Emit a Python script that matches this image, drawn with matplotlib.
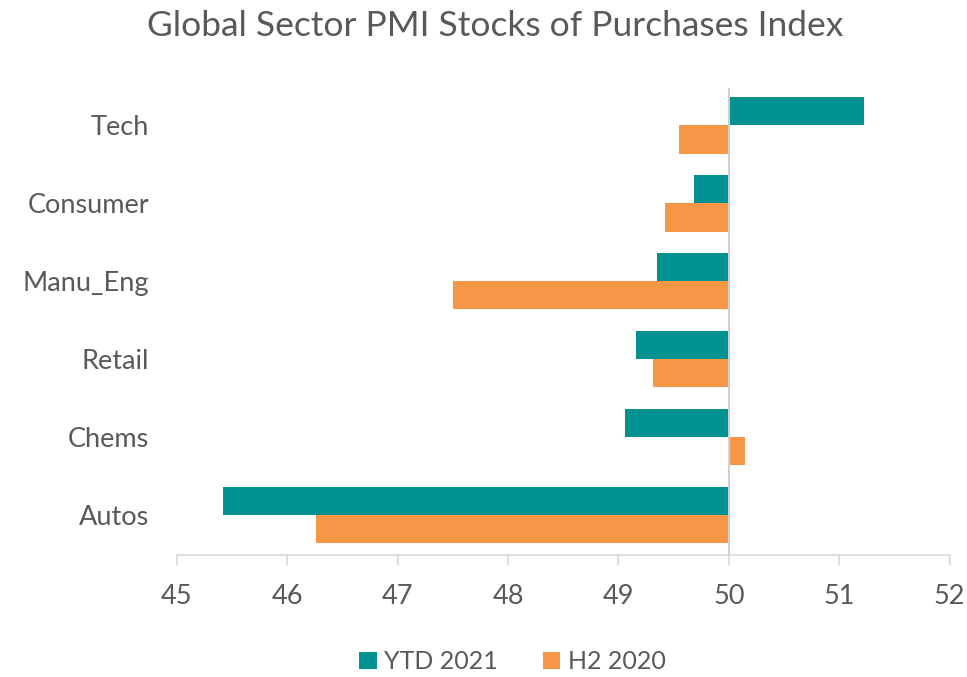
import matplotlib
matplotlib.use("Agg")
import matplotlib.pyplot as plt
import numpy as np

categories = ["Autos", "Chems", "Retail", "Manu_Eng", "Consumer", "Tech"]
ytd_2021 = [45.42, 49.06, 49.16, 49.35, 49.68, 51.22]
h2_2020 = [46.26, 50.15, 49.31, 47.50, 49.42, 49.55]
xticks = [45, 46, 47, 48, 49, 50, 51, 52]
series_names = ["YTD 2021", "H2 2020"]

plt.rcParams['font.family'] = ['Lato', 'DejaVu Sans']
TXT = '#595959'
TEAL = '#009191'
ORANGE = '#F79646'
BASE = 50

fig = plt.figure(figsize=(9.67, 6.77), dpi=100)
ax = fig.add_axes([0.183, 0.18, 0.799, 0.69])

y = np.arange(len(categories))
h = 0.36
ax.barh(y + h / 2, np.array(ytd_2021) - BASE, left=BASE, height=h, color=TEAL, label=series_names[0])
ax.barh(y - h / 2, np.array(h2_2020) - BASE, left=BASE, height=h, color=ORANGE, label=series_names[1])

ax.axvline(BASE, color='#D0D0D0', lw=1.5, zorder=3)
ax.set_xlim(45, 52)
ax.set_ylim(-0.51, 5.48)
ax.set_xticks(xticks)
ax.set_xticklabels([str(t) for t in xticks])
ax.set_yticks(y)
ax.set_yticklabels(categories)

for s in ['top', 'right', 'left']:
    ax.spines[s].set_visible(False)
ax.spines['bottom'].set_color('#D9D9D9')
ax.spines['bottom'].set_linewidth(1.2)
ax.tick_params(axis='x', colors='#D9D9D9', length=7, width=1.2, labelcolor=TXT, labelsize=19.5, pad=14)
ax.tick_params(axis='y', length=0, labelcolor=TXT, labelsize=19.5, pad=20)

fig.suptitle("Global Sector PMI Stocks of Purchases Index", x=0.512, y=0.985, fontsize=25.5, color=TXT)

leg = fig.legend(loc='lower center', bbox_to_anchor=(0.53, -0.028), ncol=2, frameon=False,
                 fontsize=18, handlelength=0.7, handleheight=0.7, handletextpad=0.3, columnspacing=1.8)
for t in leg.get_texts():
    t.set_color(TXT)

fig.savefig("out.png", dpi=100)
